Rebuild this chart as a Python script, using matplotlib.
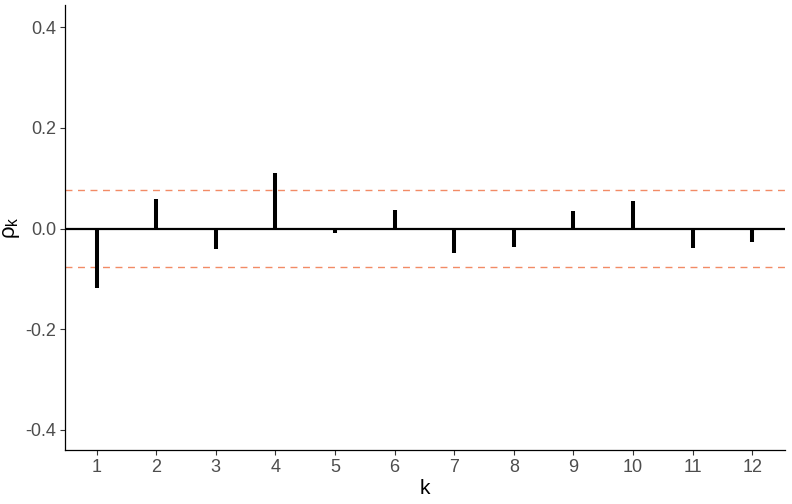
import matplotlib
matplotlib.use("Agg")
import matplotlib.pyplot as plt
from matplotlib.ticker import FixedLocator, FixedFormatter

lags = [1, 2, 3, 4, 5, 6, 7, 8, 9, 10, 11, 12]
acf = [-0.119, 0.059, -0.040, 0.111, -0.008, 0.036, -0.048, -0.036, 0.034, 0.055, -0.038, -0.026]
conf = 0.076
yticks = [-0.4, -0.2, 0.0, 0.2, 0.4]
ytick_labels = ["-0.4", "-0.2", "0.0", "0.2", "0.4"]

plt.rcParams['font.family'] = ['Liberation Sans', 'DejaVu Sans']
plt.rcParams['mathtext.fontset'] = 'custom'
plt.rcParams['mathtext.rm'] = 'Liberation Sans'
plt.rcParams['mathtext.it'] = 'Liberation Sans'
plt.rcParams['mathtext.bf'] = 'Liberation Sans:bold'

fig = plt.figure(figsize=(7.92, 5.04), dpi=100)
ax = fig.add_axes([65/792, 1-450/504, (785-65)/792, (450-5)/504])

ax.axhline(conf, color='#F28B66', lw=1.0, ls=(0, (5, 4)), zorder=1)
ax.axhline(-conf, color='#F28B66', lw=1.0, ls=(0, (5, 4)), zorder=1)
ax.axhline(0, color='black', lw=1.6, zorder=2)
ax.vlines(lags, 0, acf, color='black', lw=2.9, zorder=3)

ax.set_xlim(0.47, 12.55)
ax.set_ylim(-0.44, 0.444)
ax.xaxis.set_major_locator(FixedLocator(lags))
ax.set_xticklabels([str(l) for l in lags])
ax.yaxis.set_major_locator(FixedLocator(yticks))
ax.yaxis.set_major_formatter(FixedFormatter(ytick_labels))

for s in ['top', 'right']:
    ax.spines[s].set_visible(False)
for s in ['left', 'bottom']:
    ax.spines[s].set_linewidth(0.9)
    ax.spines[s].set_color('black')

ax.tick_params(axis='both', length=3.5, width=0.8, color='#333333',
               labelcolor='#4D4D4D', labelsize=13, pad=3)

ax.set_xlabel('k', fontsize=15, color='black', labelpad=2)
ax.set_ylabel(r'$\rho_k$', fontsize=16, color='black', labelpad=2)

fig.savefig('out.png', dpi=100)
